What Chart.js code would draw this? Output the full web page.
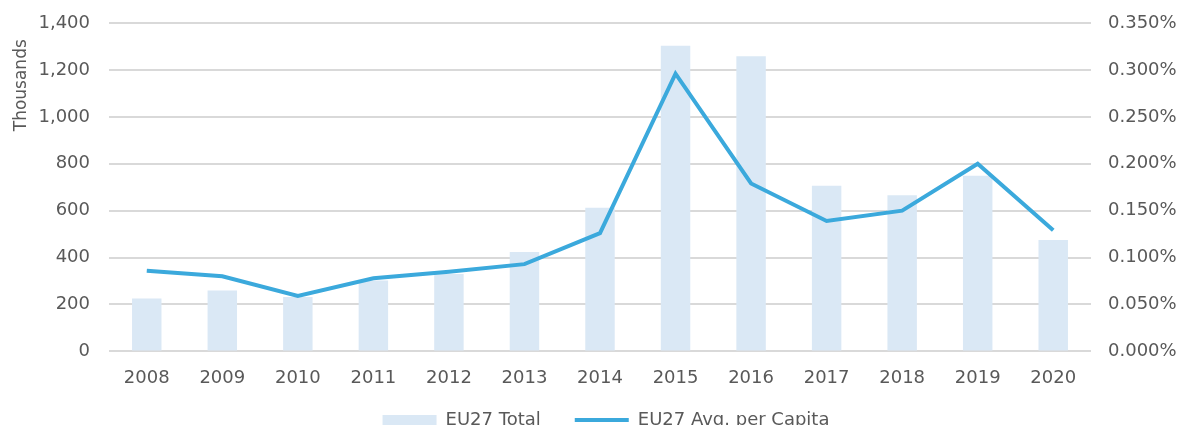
<!DOCTYPE html>
<html>
<head>
<meta charset="utf-8">
<script src="https://cdn.jsdelivr.net/npm/chart.js@4.4.1/dist/chart.umd.min.js"></script>
<style>
  html, body { margin: 0; padding: 0; background: #fff; overflow: hidden; }
  #wrap { width: 1184px; height: 425px; overflow: hidden; }
</style>
</head>
<body>
<div id="wrap">
  <canvas id="chart" width="1184" height="467"></canvas>
</div>
<script>
// years on the x axis
const years = ['2008', '2009', '2010', '2011', '2012', '2013', '2014',
               '2015', '2016', '2017', '2018', '2019', '2020'];

// EU27 total, thousands (left axis)
const euTotal = [225, 260, 232, 302, 330, 424, 612, 1303, 1258, 706, 666, 749, 475];

// EU27 average per capita, percent (right axis)
const euPerCapita = [0.086, 0.080, 0.059, 0.078, 0.085, 0.093, 0.126,
                     0.296, 0.179, 0.139, 0.150, 0.200, 0.129];

const textColor = '#595959';
const gridColor = '#d9d9d9';

// the legend sits closer to the axis than labels.padding allows, nudge it
const legendNudge = {
    id: 'legendNudge',
    afterLayout(chart) {
        const lg = chart.legend;
        if (!lg) return;
        lg.top -= 28;
        lg.bottom -= 28;
        lg.left += 12;
        lg.right += 12;
    },
};

// fixed widths so the plot area lands where the original has it
const fitLeft = (scale) => { scale.width = 101; scale.paddingTop = 23; };
const fitRight = (scale) => { scale.width = 89; scale.paddingTop = 23; };

const ctx = document.getElementById('chart').getContext('2d');

new Chart(ctx, {
    type: 'bar',
    data: {
        labels: years,
        datasets: [
            {
                label: 'EU27 Total',
                data: euTotal,
                backgroundColor: '#dae8f5',
                borderWidth: 0,
                barPercentage: 0.39,
                categoryPercentage: 1,
                yAxisID: 'y',
                order: 1,
                pointStyle: 'rect',
            },
            {
                type: 'line',
                label: 'EU27 Avg. per Capita',
                data: euPerCapita,
                borderColor: '#3ba9dc',
                backgroundColor: '#3ba9dc',
                borderWidth: 4,
                pointRadius: 0,
                tension: 0,
                yAxisID: 'y1',
                order: 0,
                pointStyle: 'line',
            },
        ],
    },
    options: {
        responsive: false,
        animation: false,
        layout: {
            padding: { top: 0, left: 8, right: 4, bottom: 0 },
        },
        scales: {
            x: {
                grid: { display: false, drawTicks: false },
                border: { display: false },
                ticks: {
                    color: textColor,
                    font: { family: 'DejaVu Sans', size: 18 },
                    padding: 16,
                },
            },
            y: {
                position: 'left',
                min: 0,
                max: 1400,
                afterFit: fitLeft,
                grid: { color: gridColor, lineWidth: 2, drawTicks: false },
                border: { display: false },
                ticks: {
                    stepSize: 200,
                    color: textColor,
                    font: { family: 'DejaVu Sans', size: 18 },
                    padding: 19,
                    callback: (v) => v.toLocaleString('en-US'),
                },
                title: {
                    display: true,
                    text: 'Thousands\u00a0\u00a0\u00a0',
                    align: 'end',
                    color: textColor,
                    font: { family: 'DejaVu Sans', size: 17 },
                    padding: { top: 3, bottom: 0 },
                },
            },
            y1: {
                position: 'right',
                min: 0,
                max: 0.35,
                afterFit: fitRight,
                grid: { drawOnChartArea: false, drawTicks: false },
                border: { display: false },
                ticks: {
                    stepSize: 0.05,
                    color: textColor,
                    font: { family: 'DejaVu Sans', size: 18 },
                    padding: 17,
                    callback: (v) => v.toFixed(3) + '%',
                },
            },
        },
        plugins: {
            legend: {
                position: 'bottom',
                labels: {
                    usePointStyle: true,
                    pointStyleWidth: 54,
                    boxHeight: 10,
                    padding: 34,
                    color: textColor,
                    font: { family: 'DejaVu Sans', size: 18 },
                    sort: (a, b) => a.datasetIndex - b.datasetIndex,
                },
            },
            tooltip: { enabled: false },
        },
    },
    plugins: [legendNudge],
});
</script>
</body>
</html>
